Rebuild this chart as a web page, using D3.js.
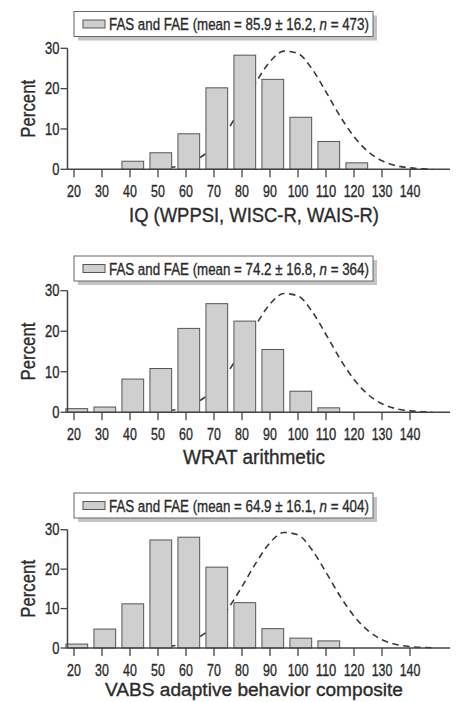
<!DOCTYPE html>
<html>
<head>
<meta charset="utf-8">
<script src="https://cdn.jsdelivr.net/npm/d3@7"></script>
<style>
	body { margin: 0; background: #fff; }
	svg { display: block; }
	text { stroke: #2b2b2b; stroke-width: 0.35px; }
</style>
</head>
<body>
<script>
// bins (centre of each 10 point class) and percent of cases
var iqBins = [40, 50, 60, 70, 80, 90, 100, 110, 120];
var iqPercent = [2.0, 4.1, 8.8, 20.2, 28.3, 22.3, 12.9, 6.9, 1.6];

var wratBins = [20, 30, 40, 50, 60, 70, 80, 90, 100, 110];
var wratPercent = [0.9, 1.3, 8.2, 10.8, 20.7, 26.8, 22.5, 15.5, 5.2, 1.1];

var vabsBins = [20, 30, 40, 50, 60, 70, 80, 90, 100, 110];
var vabsPercent = [1.0, 4.8, 11.2, 27.4, 28.1, 20.5, 11.5, 4.9, 2.5, 1.8];

// dashed reference curve (same in all three panels)
var curveX = [50, 55, 60, 65, 70, 75, 80, 85, 90, 95, 100, 105, 110, 115, 120, 125, 130, 135, 140, 145, 148];
var curveY = [0.2, 0.5, 1.3, 2.9, 5.7, 10.0, 15.6, 21.6, 26.7, 29.3, 28.7, 24.9, 19.2, 13.2, 8.1, 4.4, 2.1, 0.9, 0.35, 0.12, 0.05];

var xTicks = [20, 30, 40, 50, 60, 70, 80, 90, 100, 110, 120, 130, 140];
var yTicks = [0, 10, 20, 30];

var titles = ["IQ (WPPSI, WISC-R, WAIS-R)", "WRAT arithmetic", "VABS adaptive behavior composite"];
var means = ["85.9", "74.2", "64.9"];
var sds = ["16.2", "16.8", "16.1"];
var ns = ["473", "364", "404"];

var font = "'Liberation Sans', Arial, sans-serif";
var ink = "#2b2b2b";

var width = 456,
	height = 702;

var svg = d3
	.select("body")
	.append("svg")
	.attr("width", width)
	.attr("height", height)
	.style("font-family", font);

var panels = [
	{ bins: iqBins, pct: iqPercent, y0: 169.3, y30: 48.3, legendY: 11.5, titleW: 250, titleY: 222 },
	{ bins: wratBins, pct: wratPercent, y0: 412.3, y30: 290.7, legendY: 256, titleW: 142, titleY: 464 },
	{ bins: vabsBins, pct: vabsPercent, y0: 648, y30: 529.7, legendY: 493, titleW: 298, titleY: 696 },
];

var axisLeft = 67.5,
	axisRight = 450;

var x = d3.scaleLinear().domain([20, 140]).range([74, 410]);

// squeeze a text node horizontally to a given width (narrow look)
function fitWidth(node, target) {
	var w = node.getComputedTextLength();
	return w > 0 ? target / w : 1;
}

panels.forEach(function (p, i) {
	var y = d3.scaleLinear().domain([0, 30]).range([p.y0, p.y30]);
	var g = svg.append("g");

	// curve sits behind the bars
	var line = d3
		.line()
		.x(function (d) {
			return x(d[0]);
		})
		.y(function (d) {
			return y(d[1]);
		})
		.curve(d3.curveMonotoneX);

	g.append("path")
		.datum(d3.zip(curveX, curveY))
		.attr("d", line)
		.attr("fill", "none")
		.attr("stroke", "#3a3a3a")
		.attr("stroke-width", 1.6)
		.attr("stroke-dasharray", "6.5,4.5");

	var half = (x(24) - x(20)) * 0.97;
	g.selectAll("rect.bar")
		.data(d3.zip(p.bins, p.pct))
		.enter()
		.append("rect")
		.attr("class", "bar")
		.attr("x", function (d) {
			return x(d[0] + 1) - half;
		})
		.attr("width", half * 2)
		.attr("y", function (d) {
			return y(d[1]);
		})
		.attr("height", function (d) {
			return y(0) - y(d[1]);
		})
		.attr("fill", "#cfcfcf")
		.attr("stroke", "#555")
		.attr("stroke-width", 1);

	// axes
	g.append("line")
		.attr("x1", axisLeft)
		.attr("x2", axisRight)
		.attr("y1", y(0))
		.attr("y2", y(0))
		.attr("stroke", "#444")
		.attr("stroke-width", 1.5);
	g.append("line")
		.attr("x1", axisLeft)
		.attr("x2", axisLeft)
		.attr("y1", y(0))
		.attr("y2", y(30))
		.attr("stroke", "#444")
		.attr("stroke-width", 1.5);

	g.selectAll("line.xt")
		.data(xTicks)
		.enter()
		.append("line")
		.attr("class", "xt")
		.attr("x1", function (d) {
			return x(d);
		})
		.attr("x2", function (d) {
			return x(d);
		})
		.attr("y1", y(0))
		.attr("y2", y(0) + 8)
		.attr("stroke", "#444")
		.attr("stroke-width", 1.3);

	g.selectAll("text.xl")
		.data(xTicks)
		.enter()
		.append("text")
		.attr("class", "xl")
		.attr("text-anchor", "middle")
		.attr("font-size", 16)
		.attr("fill", ink)
		.text(function (d) {
			return d;
		})
		.attr("transform", function (d) {
			var s = fitWidth(this, String(d).length * 6.9);
			return "translate(" + x(d) + "," + (y(0) + 28) + ") scale(" + s + ",1)";
		});

	g.selectAll("line.yt")
		.data(yTicks)
		.enter()
		.append("line")
		.attr("class", "yt")
		.attr("x1", axisLeft - 7)
		.attr("x2", axisLeft)
		.attr("y1", function (d) {
			return y(d);
		})
		.attr("y2", function (d) {
			return y(d);
		})
		.attr("stroke", "#444")
		.attr("stroke-width", 1.3);

	g.selectAll("text.yl")
		.data(yTicks)
		.enter()
		.append("text")
		.attr("class", "yl")
		.attr("dy", "0.36em")
		.attr("text-anchor", "end")
		.attr("font-size", 16)
		.attr("fill", ink)
		.text(function (d) {
			return d;
		})
		.attr("transform", function (d) {
			var s = fitWidth(this, String(d).length * 7.2);
			return "translate(" + (axisLeft - 8) + "," + y(d) + ") scale(" + s + ",1)";
		});

	// y label
	var mid = (y(0) + y(30)) / 2;
	var yl = g
		.append("text")
		.attr("text-anchor", "middle")
		.attr("font-size", 21)
		.attr("fill", ink)
		.text("Percent");
	var k = fitWidth(yl.node(), 58);
	yl.attr("transform", "translate(35," + mid + ") rotate(-90) scale(" + k + ",1)");

	// x title
	var tl = g
		.append("text")
		.attr("text-anchor", "middle")
		.attr("font-size", i == 2 ? 19 : 20)
		.attr("fill", ink)
		.text(titles[i]);
	k = fitWidth(tl.node(), p.titleW);
	tl.attr("transform", "translate(254," + p.titleY + ") scale(" + k + ",1)");

	// legend box with drop shadow
	var lx = 74,
		lw = 299,
		lh = 25;
	g.append("rect")
		.attr("x", lx + 4)
		.attr("y", p.legendY + 4)
		.attr("width", lw)
		.attr("height", lh)
		.attr("fill", "#c4c4c4");
	g.append("rect")
		.attr("x", lx)
		.attr("y", p.legendY)
		.attr("width", lw)
		.attr("height", lh)
		.attr("fill", "#fff")
		.attr("stroke", "#666")
		.attr("stroke-width", 1);
	g.append("rect")
		.attr("x", lx + 9)
		.attr("y", p.legendY + lh / 2 - 4)
		.attr("width", 22)
		.attr("height", 8)
		.attr("fill", "#cfcfcf")
		.attr("stroke", "#555")
		.attr("stroke-width", 1);

	var lt = g
		.append("text")
		.attr("font-size", 17)
		.attr("fill", ink);
	lt.append("tspan").text("FAS and FAE (mean = " + means[i] + " \u00b1 " + sds[i] + ", ");
	lt.append("tspan").attr("font-style", "italic").text("n");
	lt.append("tspan").text(" = " + ns[i] + ")");
	k = fitWidth(lt.node(), 260);
	lt.attr("transform", "translate(" + (lx + 35) + "," + (p.legendY + lh / 2 + 6) + ") scale(" + k + ",1)");
});
</script>
</body>
</html>
